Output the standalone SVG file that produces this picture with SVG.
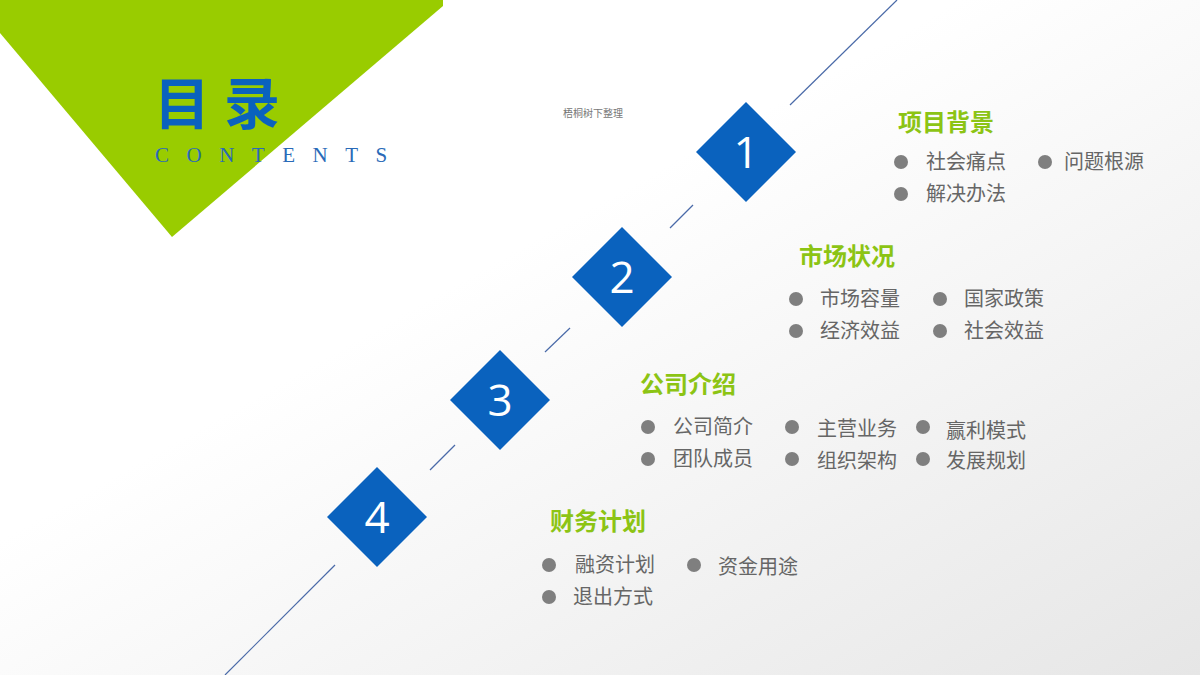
<svg xmlns="http://www.w3.org/2000/svg" width="1200" height="675" viewBox="0 0 1200 675">
<defs>
<linearGradient id="bg" x1="0" y1="0" x2="1" y2="1"><stop offset="0.4" stop-color="#ffffff"/><stop offset="1" stop-color="#e6e6e6"/></linearGradient>
<style>
.h{font-family:"Noto Sans CJK SC",sans-serif;font-weight:bold;font-size:24px;fill:#8cc414}
.t{font-family:"Noto Sans CJK SC",sans-serif;font-size:20px;fill:#666}
.b{fill:#7f7f7f}
.d{fill:#0a62be}
.n{font-family:"Open Sans","Liberation Sans",sans-serif;font-size:44px;fill:#fff;text-anchor:middle}
.ln{stroke:#4a6aa8;stroke-width:1.2}
</style>
</defs>
<rect width="1200" height="675" fill="url(#bg)"/>
<polygon points="0,0 443,0 443,6 172,237 0,33" fill="#99cc00"/>
<text x="154" y="124" font-family="'Noto Sans CJK SC',sans-serif" font-weight="bold" font-size="56" fill="#0a62be" letter-spacing="14">目录</text>
<text x="155" y="162" font-family="'Liberation Serif',serif" font-size="21" fill="#2a6ab8" letter-spacing="17.5">CONTENTS</text>
<text x="563" y="117" font-family="'Noto Sans CJK SC',sans-serif" font-size="10" fill="#777">梧桐树下整理</text>
<g id="connectors">
<line class="ln" x1="790" y1="105" x2="897" y2="0"/>
<line class="ln" x1="670" y1="228" x2="693" y2="205"/>
<line class="ln" x1="545" y1="352" x2="570" y2="328"/>
<line class="ln" x1="430" y1="470" x2="455" y2="445"/>
<line class="ln" x1="225" y1="675" x2="335" y2="565"/>
</g>
<g id="n1"><polygon class="d" points="746,102 796,152 746,202 696,152"/><text class="n" x="746" y="168">1</text>
<text class="h" x="898" y="131">项目背景</text>
<circle class="b" cx="901" cy="162" r="7"/><text class="t" x="926" y="169">社会痛点</text>
<circle class="b" cx="1045" cy="162" r="7"/><text class="t" x="1064" y="169">问题根源</text>
<circle class="b" cx="901" cy="194" r="7"/><text class="t" x="926" y="201">解决办法</text></g>
<g id="n2"><polygon class="d" points="622,227 672,277 622,327 572,277"/><text class="n" x="622" y="293">2</text>
<text class="h" x="799" y="265">市场状况</text>
<circle class="b" cx="796" cy="299" r="7"/><text class="t" x="820" y="306">市场容量</text>
<circle class="b" cx="940" cy="299" r="7"/><text class="t" x="964" y="306">国家政策</text>
<circle class="b" cx="796" cy="331" r="7"/><text class="t" x="820" y="338">经济效益</text>
<circle class="b" cx="940" cy="331" r="7"/><text class="t" x="964" y="338">社会效益</text></g>
<g id="n3"><polygon class="d" points="500,350 550,400 500,450 450,400"/><text class="n" x="500" y="416">3</text>
<text class="h" x="640" y="393">公司介绍</text>
<circle class="b" cx="648" cy="427" r="7"/><text class="t" x="673" y="434">公司简介</text>
<circle class="b" cx="792" cy="427" r="7"/><text class="t" x="817" y="436">主营业务</text>
<circle class="b" cx="923" cy="427" r="7"/><text class="t" x="946" y="438">赢利模式</text>
<circle class="b" cx="648" cy="459" r="7"/><text class="t" x="673" y="466">团队成员</text>
<circle class="b" cx="792" cy="459" r="7"/><text class="t" x="817" y="468">组织架构</text>
<circle class="b" cx="923" cy="459" r="7"/><text class="t" x="946" y="468">发展规划</text></g>
<g id="n4"><polygon class="d" points="377,467 427,517 377,567 327,517"/><text class="n" x="377" y="533">4</text>
<text class="h" x="550" y="530">财务计划</text>
<circle class="b" cx="549" cy="565" r="7"/><text class="t" x="575" y="572">融资计划</text>
<circle class="b" cx="694" cy="565" r="7"/><text class="t" x="718" y="574">资金用途</text>
<circle class="b" cx="549" cy="597" r="7"/><text class="t" x="573" y="604">退出方式</text></g>
</svg>
